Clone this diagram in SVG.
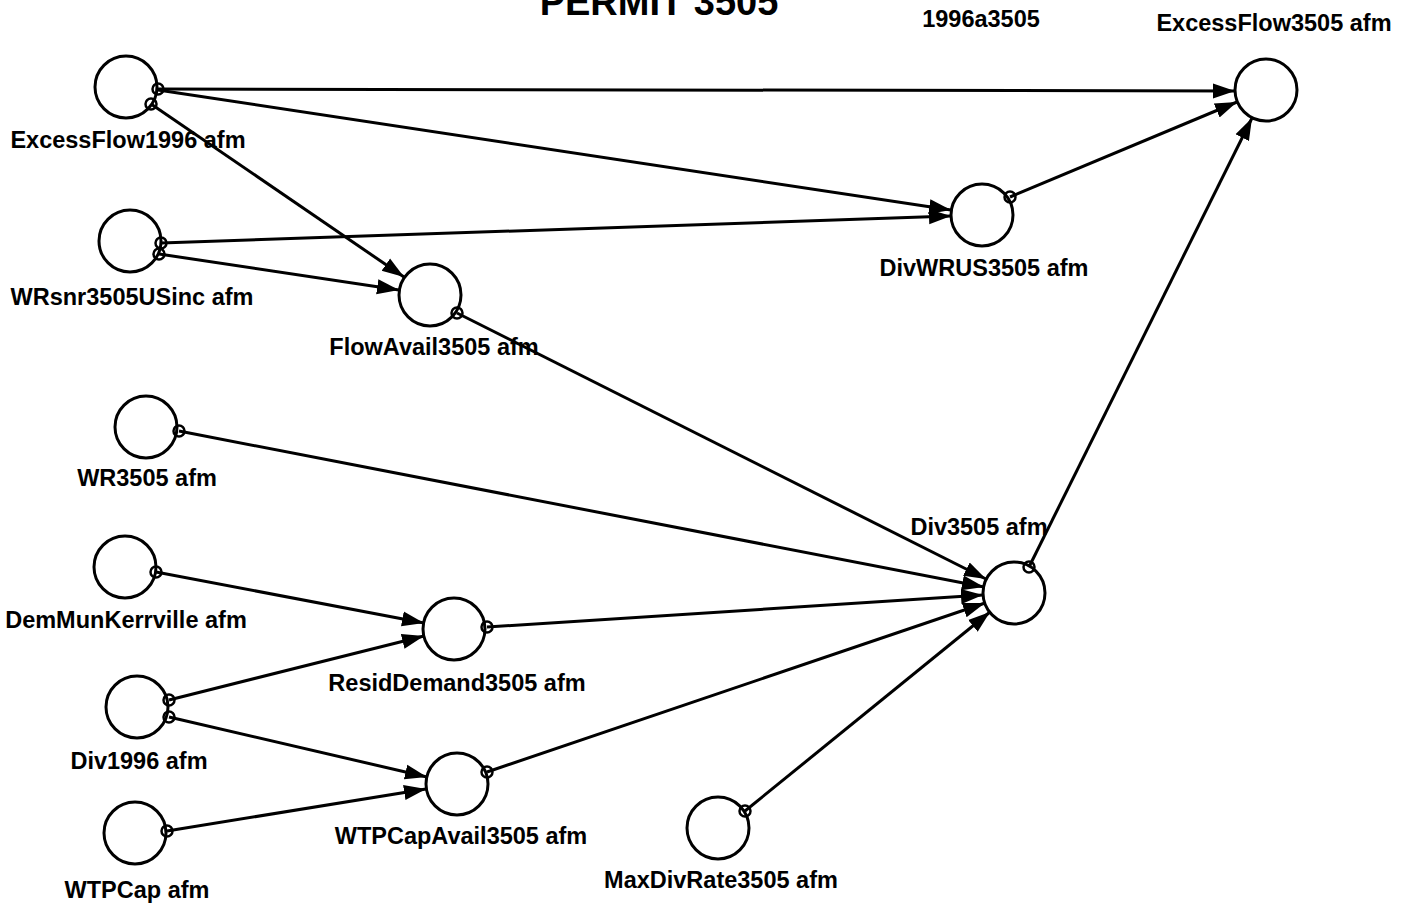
<svg xmlns="http://www.w3.org/2000/svg" width="1411" height="905" viewBox="0 0 1411 905">
  <style>
    .node { fill: #fff; stroke: #000; stroke-width: 3; }
    .port { fill: none; stroke: #000; stroke-width: 2.5; }
    .edge { fill: none; stroke: #000; stroke-width: 3; marker-end: url(#arrow); }
    .label { font-family: "Liberation Sans", Arial, sans-serif; font-weight: bold; font-size: 23.5px; fill: #000; text-anchor: middle; }
    .title { font-family: "Liberation Sans", Arial, sans-serif; font-weight: bold; font-size: 38px; fill: #000; text-anchor: middle; }
  </style>
  <defs>
    <marker id="arrow" markerUnits="userSpaceOnUse" markerWidth="24" markerHeight="18" refX="22" refY="9" orient="auto">
      <path d="M0,1.5 L22,9 L0,16.5 z" fill="#000"/>
    </marker>
  </defs>
  <rect width="1411" height="905" fill="#fff"/>

  <text class="title" x="659" y="15">PERMIT 3505</text>
  <text class="label" x="981" y="27">1996a3505</text>

  <!-- connectors -->
  <g id="connectors">
    <line class="edge" x1="158" y1="89" x2="1235" y2="91"/>
    <line class="edge" x1="158" y1="90" x2="951" y2="210"/>
    <line class="edge" x1="151" y1="104" x2="404" y2="277"/>
    <line class="edge" x1="161" y1="243" x2="951" y2="216"/>
    <line class="edge" x1="159" y1="254" x2="399" y2="290"/>
    <line class="edge" x1="457" y1="313" x2="986" y2="579"/>
    <line class="edge" x1="179" y1="431" x2="984" y2="587"/>
    <line class="edge" x1="156" y1="572" x2="424" y2="623"/>
    <line class="edge" x1="487" y1="627" x2="983" y2="595"/>
    <line class="edge" x1="169" y1="700" x2="424" y2="636"/>
    <line class="edge" x1="169" y1="717" x2="427" y2="777"/>
    <line class="edge" x1="167" y1="831" x2="426" y2="789"/>
    <line class="edge" x1="487" y1="772" x2="985" y2="603"/>
    <line class="edge" x1="745" y1="811" x2="990" y2="612"/>
    <line class="edge" x1="1029" y1="567" x2="1252" y2="118"/>
    <line class="edge" x1="1010" y1="197" x2="1237" y2="102"/>
  </g>

  <g id="ExcessFlow1996">
    <circle class="node" cx="126" cy="87" r="31"/>
    <circle class="port" cx="158" cy="89" r="5.5"/>
    <circle class="port" cx="151" cy="104" r="5.5"/>
    <text class="label" x="128" y="148">ExcessFlow1996 afm</text>
  </g>
  <g id="WRsnr3505USinc">
    <circle class="node" cx="130" cy="241" r="31"/>
    <circle class="port" cx="161" cy="243" r="5.5"/>
    <circle class="port" cx="159" cy="254" r="5.5"/>
    <text class="label" x="132" y="305">WRsnr3505USinc afm</text>
  </g>
  <g id="FlowAvail3505">
    <circle class="node" cx="430" cy="295" r="31"/>
    <circle class="port" cx="457" cy="313" r="5.5"/>
    <text class="label" x="434" y="355">FlowAvail3505 afm</text>
  </g>
  <g id="WR3505">
    <circle class="node" cx="146" cy="427" r="31"/>
    <circle class="port" cx="179" cy="431" r="5.5"/>
    <text class="label" x="147" y="486">WR3505 afm</text>
  </g>
  <g id="DemMunKerrville">
    <circle class="node" cx="125" cy="567" r="31"/>
    <circle class="port" cx="156" cy="572" r="5.5"/>
    <text class="label" x="126" y="628">DemMunKerrville afm</text>
  </g>
  <g id="Div1996">
    <circle class="node" cx="137" cy="707" r="31"/>
    <circle class="port" cx="169" cy="700" r="5.5"/>
    <circle class="port" cx="169" cy="717" r="5.5"/>
    <text class="label" x="139" y="769">Div1996 afm</text>
  </g>
  <g id="WTPCap">
    <circle class="node" cx="135" cy="833" r="31"/>
    <circle class="port" cx="167" cy="831" r="5.5"/>
    <text class="label" x="137" y="898">WTPCap afm</text>
  </g>
  <g id="ResidDemand3505">
    <circle class="node" cx="454" cy="629" r="31"/>
    <circle class="port" cx="487" cy="627" r="5.5"/>
    <text class="label" x="457" y="691">ResidDemand3505 afm</text>
  </g>
  <g id="WTPCapAvail3505">
    <circle class="node" cx="457" cy="784" r="31"/>
    <circle class="port" cx="487" cy="772" r="5.5"/>
    <text class="label" x="461" y="844">WTPCapAvail3505 afm</text>
  </g>
  <g id="MaxDivRate3505">
    <circle class="node" cx="718" cy="828" r="31"/>
    <circle class="port" cx="745" cy="811" r="5.5"/>
    <text class="label" x="721" y="888">MaxDivRate3505 afm</text>
  </g>
  <g id="Div3505">
    <circle class="node" cx="1014" cy="593" r="31"/>
    <circle class="port" cx="1029" cy="567" r="5.5"/>
    <text class="label" x="979" y="535">Div3505 afm</text>
  </g>
  <g id="DivWRUS3505">
    <circle class="node" cx="982" cy="215" r="31"/>
    <circle class="port" cx="1010" cy="197" r="5.5"/>
    <text class="label" x="984" y="276">DivWRUS3505 afm</text>
  </g>
  <g id="ExcessFlow3505">
    <circle class="node" cx="1266" cy="90" r="31"/>
    <text class="label" x="1274" y="31">ExcessFlow3505 afm</text>
  </g>
</svg>
